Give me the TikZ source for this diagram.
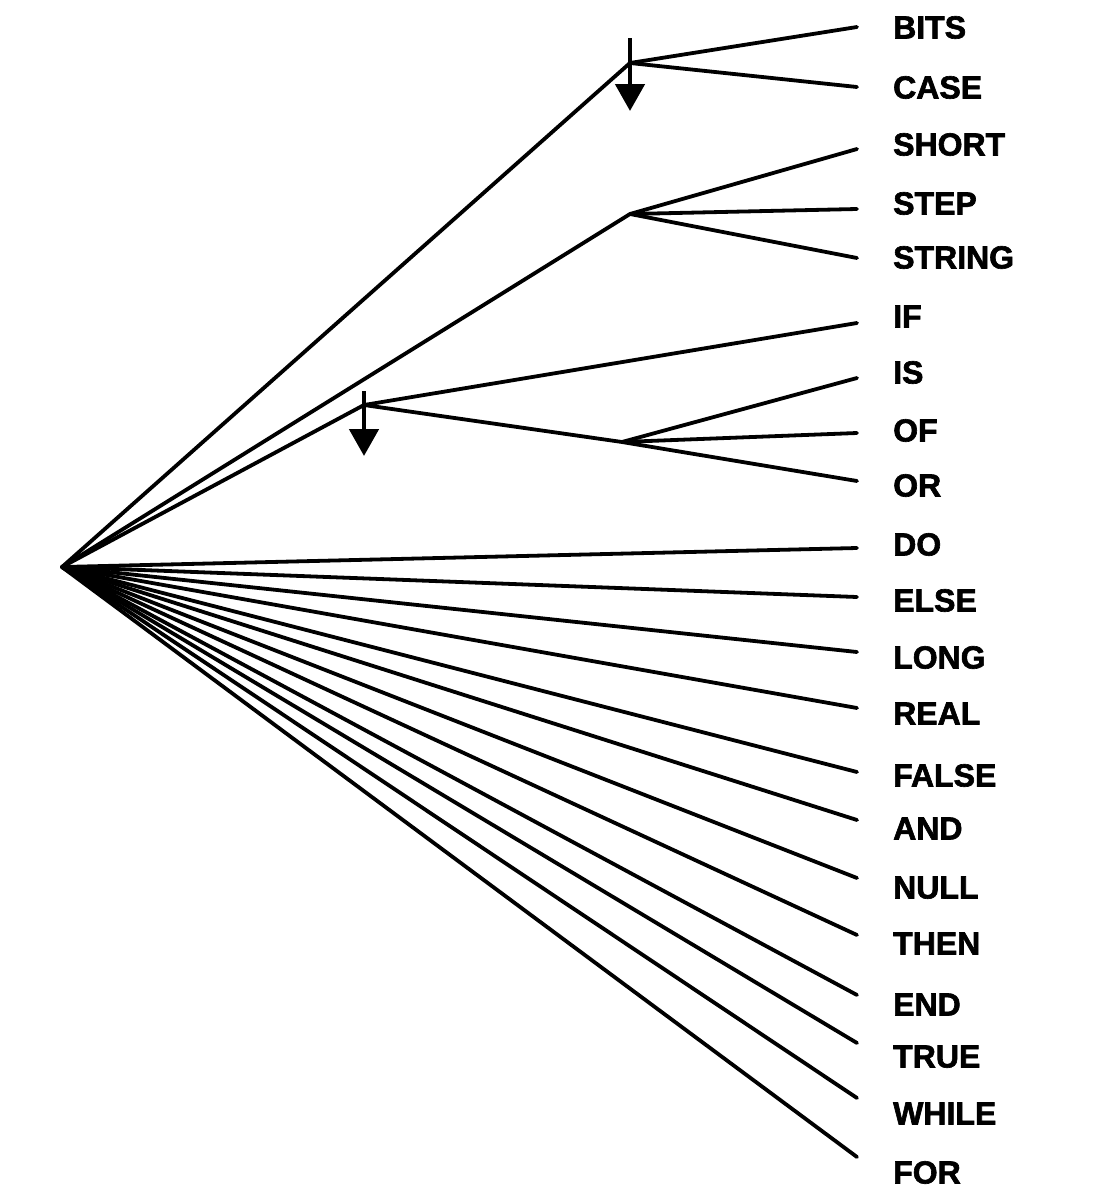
\documentclass[tikz,border=0pt]{standalone}
\usepackage{fontspec}
\setmainfont{Liberation Sans}[BoldFeatures={FakeBold=2}]
\usetikzlibrary{arrows.meta}
\tikzset{
  edge/.style={line width=3.8pt, line cap=round, line join=round},
  word/.style={anchor=base west, inner sep=0pt, font=\fontsize{32}{32}\selectfont\bfseries},
  pointer/.style={line width=4.8pt, -{Triangle[width=29pt,length=27pt]}}
}
\begin{document}
\begin{tikzpicture}[x=1pt,y=-1pt]
\useasboundingbox (0,0) rectangle (1116,1200);
% root and branch points
\coordinate (root) at (62,567);
\coordinate (b1) at (630,63);
\coordinate (b2) at (630,214);
\coordinate (b3) at (364,405);
\coordinate (b4) at (622,442);
% pointer arrows
\coordinate (p1top) at (630,38);
\coordinate (p1tip) at (630,111);
\coordinate (p3top) at (364,391);
\coordinate (p3tip) at (364,456);
% line ends and labels
\foreach \w/\ey/\ly in {BITS/27/27, CASE/87/87, SHORT/149/144, STEP/209/203, STRING/258/257,
  IF/323/316, IS/378/372, OF/433/430, OR/481/485, DO/548/544, ELSE/597/600, LONG/652/657,
  REAL/708/713, FALSE/772/775, AND/820/828, NULL/878/887, THEN/935/943, END/995/1004,
  TRUE/1043/1056, WHILE/1098/1113, FOR/1157/1172}{
  \coordinate (e\w) at (857,\ey);
  \node[word] (n\w) at (893,\ly+11.5) {\w};
}
% tree
\draw[edge] (root) -- (b1);
\draw[edge] (root) -- (b2);
\draw[edge] (root) -- (b3);
\draw[edge] (b1) -- (eBITS);
\draw[edge] (b1) -- (eCASE);
\draw[edge] (b2) -- (eSHORT);
\draw[edge] (b2) -- (eSTEP);
\draw[edge] (b2) -- (eSTRING);
\draw[edge] (b3) -- (eIF);
\draw[edge] (b3) -- (b4);
\draw[edge] (b4) -- (eIS);
\draw[edge] (b4) -- (eOF);
\draw[edge] (b4) -- (eOR);
\foreach \w in {DO,ELSE,LONG,REAL,FALSE,AND,NULL,THEN,END,TRUE,WHILE,FOR}{
  \draw[edge] (root) -- (e\w);
}
\draw[pointer] (p1top) -- (p1tip);
\draw[pointer] (p3top) -- (p3tip);
\end{tikzpicture}
\end{document}
